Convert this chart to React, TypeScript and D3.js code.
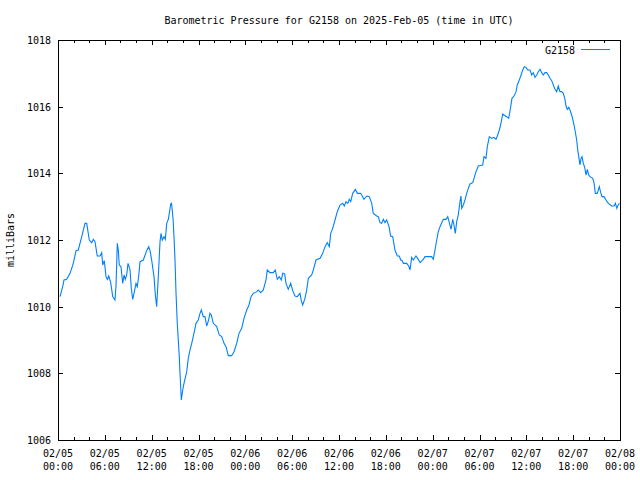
import React from 'react';
import * as d3 from 'd3';

const title = 'Barometric Pressure for G2158 on 2025-Feb-05 (time in UTC)';
const yLabel = 'milliBars';
const seriesName = 'G2158';
const yTicks = [1006, 1008, 1010, 1012, 1014, 1016, 1018];

// hours since 2025-02-05 00:00 UTC
const hours = [
  0.26, 0.6, 0.77, 1.11, 1.54, 1.96, 2.31, 2.6, 3.04, 3.46, 3.68, 4.01, 4.32, 4.52, 4.74, 5.03, 5.38, 5.6, 5.73, 5.93,
  6.15, 6.32, 6.5, 6.75, 7.01, 7.3, 7.43, 7.6, 7.73, 7.85, 8.07, 8.29, 8.46, 8.62, 8.8, 8.97, 9.22, 9.39, 9.57, 9.74,
  9.99, 10.16, 10.34, 10.51, 10.93, 11.36, 11.62, 11.79, 12.0, 12.3, 12.47, 12.64, 12.85, 13.07, 13.2, 13.36, 13.58, 13.75, 13.93, 14.13,
  14.26, 14.44, 14.55, 14.75, 14.88, 14.99, 15.12, 15.28, 15.54, 15.63, 15.8, 15.98, 16.14, 16.49, 16.69, 16.91, 17.13, 17.42, 17.68, 17.97,
  18.19, 18.36, 18.61, 18.83, 19.05, 19.26, 19.47, 19.64, 19.9, 20.33, 20.66, 20.97, 21.27, 21.52, 21.82, 22.25, 22.55, 22.89, 23.19, 23.53,
  23.83, 24.18, 24.47, 24.73, 25.02, 25.46, 25.66, 25.97, 26.3, 26.65, 26.81, 27.16, 27.58, 27.84, 28.09, 28.35, 28.61, 28.79, 29.04, 29.21,
  29.5, 29.81, 30.07, 30.36, 30.66, 31.0, 31.17, 31.35, 31.64, 31.86, 32.07, 32.5, 32.71, 33.05, 33.57, 33.91, 34.21, 34.5, 34.76, 34.94,
  35.19, 35.49, 35.78, 36.13, 36.47, 36.68, 36.9, 37.12, 37.32, 37.5, 37.76, 38.09, 38.35, 38.78, 39.2, 39.55, 39.88, 40.19, 40.39, 40.83,
  41.04, 41.25, 41.47, 41.68, 41.89, 42.11, 42.41, 42.62, 42.88, 43.17, 43.47, 43.73, 43.9, 44.11, 44.24, 44.67, 44.93, 45.1, 45.31, 45.52,
  45.86, 46.16, 46.38, 46.8, 47.02, 47.87, 48.08, 48.3, 48.52, 48.72, 48.94, 49.36, 49.71, 49.93, 50.13, 50.35, 50.57, 50.73, 50.9, 51.08,
  51.28, 51.5, 51.63, 51.72, 51.93, 52.14, 52.36, 52.57, 52.78, 53.13, 53.3, 53.55, 53.85, 54.41, 54.58, 54.83, 55.0, 55.26, 55.56, 55.86,
  56.11, 56.28, 56.54, 56.75, 56.97, 57.14, 57.48, 57.74, 58.0, 58.16, 58.42, 58.68, 58.84, 59.1, 59.28, 59.54, 59.74, 59.96, 60.18, 60.47,
  60.69, 60.89, 61.11, 61.33, 61.53, 61.75, 61.97, 62.17, 62.39, 62.61, 62.81, 63.03, 63.25, 63.46, 63.67, 63.89, 64.09, 64.31, 64.53, 64.74,
  64.95, 65.08, 65.25, 65.43, 65.59, 65.81, 66.02, 66.23, 66.45, 66.58, 66.75, 66.88, 67.01, 67.13, 67.3, 67.48, 67.64, 67.81, 67.99, 68.16,
  68.5, 68.67, 68.84, 69.09, 69.35, 69.53, 69.69, 69.95, 70.21, 70.51, 70.94, 71.24, 71.41, 71.59, 71.76, 71.93,
];

const pressure = [
  1010.3, 1010.6, 1010.8, 1010.82, 1011.0, 1011.3, 1011.68, 1011.7, 1012.1, 1012.5, 1012.5, 1012.0, 1011.92, 1012.02, 1011.95, 1011.52, 1011.52, 1011.62, 1011.25, 1011.38,
  1010.9, 1010.82, 1010.92, 1010.72, 1010.3, 1010.2, 1010.62, 1011.9, 1011.68, 1011.25, 1011.2, 1010.7, 1010.95, 1010.82, 1010.95, 1011.3, 1011.12, 1010.55, 1010.22, 1010.4,
  1010.7, 1010.6, 1010.92, 1011.35, 1011.4, 1011.68, 1011.8, 1011.68, 1011.4, 1010.9, 1010.35, 1010.0, 1010.9, 1011.95, 1012.2, 1012.0, 1012.1, 1012.02, 1012.5, 1012.62,
  1012.8, 1013.08, 1013.1, 1012.6, 1012.0, 1011.4, 1010.4, 1009.5, 1008.5, 1008.0, 1007.2, 1007.5, 1007.7, 1008.05, 1008.45, 1008.7, 1008.9, 1009.2, 1009.5, 1009.6,
  1009.8, 1009.9, 1009.7, 1009.7, 1009.42, 1009.57, 1009.8, 1009.75, 1009.5, 1009.4, 1009.15, 1009.1, 1008.9, 1008.8, 1008.53, 1008.53, 1008.65, 1008.9, 1009.2, 1009.35,
  1009.65, 1009.9, 1010.05, 1010.3, 1010.4, 1010.45, 1010.5, 1010.42, 1010.5, 1010.8, 1011.1, 1011.02, 1011.02, 1011.1, 1010.82, 1010.9, 1010.8, 1011.0, 1010.98, 1010.7,
  1010.52, 1010.7, 1010.48, 1010.32, 1010.3, 1010.4, 1010.18, 1010.05, 1010.25, 1010.5, 1010.85, 1010.95, 1011.1, 1011.4, 1011.45, 1011.6, 1011.8, 1011.92, 1011.8, 1012.2,
  1012.35, 1012.6, 1012.85, 1013.05, 1013.1, 1013.02, 1013.15, 1013.1, 1013.22, 1013.15, 1013.4, 1013.52, 1013.4, 1013.4, 1013.22, 1013.32, 1013.3, 1013.1, 1012.8, 1012.72,
  1012.7, 1012.52, 1012.5, 1012.62, 1012.52, 1012.6, 1012.4, 1012.12, 1012.1, 1011.7, 1011.52, 1011.52, 1011.4, 1011.38, 1011.3, 1011.3, 1011.22, 1011.1, 1011.48, 1011.4,
  1011.52, 1011.42, 1011.32, 1011.42, 1011.5, 1011.5, 1011.42, 1011.7, 1012.0, 1012.25, 1012.4, 1012.62, 1012.62, 1012.7, 1012.52, 1012.32, 1012.62, 1012.45, 1012.2, 1012.55,
  1012.75, 1013.15, 1013.32, 1012.95, 1013.05, 1013.2, 1013.4, 1013.55, 1013.68, 1013.72, 1013.85, 1014.05, 1014.22, 1014.25, 1014.5, 1014.45, 1014.8, 1015.1, 1015.05, 1015.08,
  1015.02, 1015.12, 1015.3, 1015.5, 1015.78, 1015.75, 1015.7, 1015.65, 1016.0, 1016.25, 1016.32, 1016.45, 1016.65, 1016.8, 1016.92, 1017.1, 1017.2, 1017.18, 1017.1, 1017.1,
  1016.95, 1017.02, 1016.88, 1016.95, 1017.05, 1017.12, 1017.02, 1016.95, 1017.02, 1017.02, 1016.95, 1016.85, 1016.78, 1016.65, 1016.52, 1016.45, 1016.62, 1016.45, 1016.45, 1016.4,
  1016.22, 1016.02, 1015.92, 1015.98, 1015.9, 1015.75, 1015.55, 1015.3, 1015.0, 1014.7, 1014.45, 1014.25, 1014.45, 1014.5, 1014.3, 1014.18, 1013.95, 1014.12, 1013.95, 1013.9,
  1013.85, 1013.72, 1013.4, 1013.4, 1013.6, 1013.42, 1013.3, 1013.3, 1013.2, 1013.1, 1013.02, 1013.02, 1013.1, 1012.95, 1013.05, 1013.1,
];

const FONT = '"DejaVu Sans Mono", "Liberation Mono", monospace';

export default function App() {
  const W = 640;
  const H = 480;
  const left = 58;
  const right = 620;
  const top = 40;
  const bottom = 440;
  const t0 = Date.UTC(2025, 1, 5);
  const x = d3
    .scaleUtc()
    .domain([new Date(t0), new Date(t0 + 72 * 3600e3)])
    .range([left, right]);
  const y = d3.scaleLinear().domain([1006, 1018]).range([bottom, top]);
  const data = hours.map((h, i) => ({ d: new Date(t0 + h * 3600e3), v: pressure[i] }));
  const line = d3
    .line<{ d: Date; v: number }>()
    .x((p) => x(p.d))
    .y((p) => y(p.v));
  const major = x.ticks(d3.utcHour.every(6) as any);
  const minor = x.ticks(d3.utcHour.every(2) as any);
  const fmtDate = d3.utcFormat('%m/%d');
  const fmtTime = d3.utcFormat('%H:%M');
  const cx = (v: number) => Math.round(v) + 0.5;

  return (
    <svg
      width={W}
      height={H}
      style={{ position: 'fixed', left: 0, top: 0, background: '#fff' }}
      fontFamily={FONT}
      fontSize={10}
    >
      <rect x={0} y={0} width={W} height={H} fill="#fff" />
      <text x={(left + right) / 2} y={24} textAnchor="middle" fill="#000">
        {title}
      </text>
      <g shapeRendering="crispEdges">
        {minor.map((t, i) => (
          <g key={'mn' + i} stroke="#000" strokeWidth={1}>
            <line x1={cx(x(t))} x2={cx(x(t))} y1={bottom} y2={bottom - 3} />
            <line x1={cx(x(t))} x2={cx(x(t))} y1={top} y2={top + 3} />
          </g>
        ))}
        {major.map((t, i) => (
          <g key={'mj' + i} stroke="#000">
            <line x1={cx(x(t))} x2={cx(x(t))} y1={bottom} y2={bottom - 5} />
            <line x1={cx(x(t))} x2={cx(x(t))} y1={top} y2={top + 5} />
          </g>
        ))}
        {yTicks.map((v) => (
          <g key={'yt' + v} stroke="#000">
            <line x1={left} x2={left + 5} y1={cx(y(v))} y2={cx(y(v))} />
            <line x1={right} x2={right - 5} y1={cx(y(v))} y2={cx(y(v))} />
          </g>
        ))}
      </g>
      {major.map((t, i) => (
        <g key={'ml' + i} fill="#000" textAnchor="middle">
          <text x={x(t)} y={457}>
            {fmtDate(t)}
          </text>
          <text x={x(t)} y={470}>
            {fmtTime(t)}
          </text>
        </g>
      ))}
      {yTicks.map((v) => (
        <text key={'yl' + v} x={51} y={y(v) + 4} textAnchor="end" fill="#000">
          {v}
        </text>
      ))}
      <text
        transform={`translate(14, ${(top + bottom) / 2}) rotate(-90)`}
        textAnchor="middle"
        fill="#000"
      >
        {yLabel}
      </text>
      <path d={line(data) || ''} fill="none" stroke="#0080ff" strokeWidth={1.1} />
      <text x={575} y={54} textAnchor="end" fill="#000">
        {seriesName}
      </text>
      <line
        x1={581}
        x2={610}
        y1={49.5}
        y2={49.5}
        stroke="#0080ff"
        strokeWidth={1}
        shapeRendering="crispEdges"
      />
      <rect
        x={left + 0.5}
        y={top + 0.5}
        width={right - left}
        height={bottom - top}
        fill="none"
        stroke="#000"
        strokeWidth={1}
        shapeRendering="crispEdges"
      />
    </svg>
  );
}
